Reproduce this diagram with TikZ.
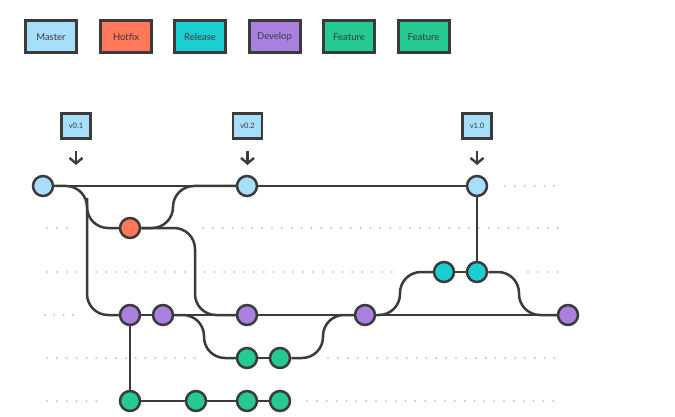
\documentclass[tikz,border=0pt]{standalone}
\usepackage{fontspec}
\setmainfont{Lato}
\usetikzlibrary{arrows.meta}
\definecolor{edge}{HTML}{3B3B3B}
\definecolor{lanegray}{HTML}{C8C8C8}
\definecolor{masterc}{HTML}{A6DEFB}
\definecolor{hotfixc}{HTML}{FF7859}
\definecolor{releasec}{HTML}{1BCED1}
\definecolor{developc}{HTML}{A97FE0}
\definecolor{featurec}{HTML}{24C994}

\begin{document}
\begin{tikzpicture}[x=1pt, y=-1pt,
  commit/.style={circle, draw=edge, line width=2.5pt, minimum size=20pt, inner sep=0pt},
  legend/.style={draw=edge, line width=3pt, minimum width=51pt, minimum height=32pt,
    inner sep=0pt, text=edge, font=\fontsize{9.5}{11}\selectfont},
  tag/.style={draw=edge, fill=masterc, line width=2.2pt, minimum width=29pt,
    minimum height=25pt, inner sep=0pt, text=edge, font=\fontsize{7.5}{9}\selectfont},
  branch/.style={draw=edge, line width=2.5pt, rounded corners=21pt},
  lane/.style={draw=lanegray, line width=2.3pt, line cap=round, dash pattern=on 0pt off 9.85pt},
  tagarrow/.style={draw=edge, line width=2.4pt, -{Straight Barb[length=5.5pt,width=13pt]},
    shorten <=11pt, shorten >=21pt}]
  \useasboundingbox (0,0) rectangle (675,417);
  % legend
  \node[legend, fill=masterc]  (lmaster)  at (51,37)    {Master};
  \node[legend, fill=hotfixc]  (lhotfix)  at (126,37)   {Hotfix};
  \node[legend, fill=releasec] (lrelease) at (200,37)   {Release};
  \node[legend, fill=developc] (ldevelop) at (274.5,37) {Develop};
  \node[legend, fill=featurec] (lfeatA)   at (349,37)   {Feature};
  \node[legend, fill=featurec] (lfeatB)   at (423.5,37) {Feature};
  % lanes
  \draw[lane] (505,186) -- (559,186);
  \draw[lane] (47,228) -- (68,228);
  \draw[lane] (203,228) -- (559,228);
  \draw[lane] (47,272) -- (398,272);
  \draw[lane] (528,272) -- (559,272);
  \draw[lane, dash pattern=on 0pt off 9.3pt] (45,315) -- (73,315);
  \draw[lane] (47,358) -- (201,358);
  \draw[lane] (328,358) -- (559,358);
  \draw[lane] (47,401) -- (106,401);
  \draw[lane] (307,401) -- (559,401);
  % commits
  \node[commit, fill=masterc]  (m1) at (43,186) {};
  \node[commit, fill=masterc]  (m2) at (247,186) {};
  \node[commit, fill=masterc]  (m3) at (477,186) {};
  \node[commit, fill=hotfixc]  (h1) at (130,228) {};
  \node[commit, fill=releasec] (r1) at (444,272) {};
  \node[commit, fill=releasec] (r2) at (477,272) {};
  \node[commit, fill=developc] (d1) at (130,315) {};
  \node[commit, fill=developc] (d2) at (163,315) {};
  \node[commit, fill=developc] (d3) at (247,315) {};
  \node[commit, fill=developc] (d4) at (365,315) {};
  \node[commit, fill=developc] (d5) at (568,315) {};
  \node[commit, fill=featurec] (fa1) at (247,358) {};
  \node[commit, fill=featurec] (fa2) at (280,358) {};
  \node[commit, fill=featurec] (fb1) at (130,401) {};
  \node[commit, fill=featurec] (fb2) at (196,401) {};
  \node[commit, fill=featurec] (fb3) at (247,401) {};
  \node[commit, fill=featurec] (fb4) at (280,401) {};
  % tags
  \node[tag] (t01) at (76,126)    {v0.1};
  \node[tag] (t02) at (247.5,126) {v0.2};
  \node[tag] (t10) at (477,126)   {v1.0};
  \draw[tagarrow] (t01) -- (t01 |- m1);
  \draw[tagarrow] (t02) -- (t02 |- m2);
  \draw[tagarrow] (t10) -- (t10 |- m3);
  % straight history
  \draw[branch] (m1) -- (m2) -- (m3);
  \draw[branch] (d1) -- (d2) -- (d3) -- (d4) -- (d5);
  \draw[branch] (r1) -- (r2);
  \draw[branch] (r2) -- (m3);
  \draw[branch] (fa1) -- (fa2);
  \draw[branch] (fb1) -- (fb2) -- (fb3) -- (fb4);
  \draw[branch] (d1) -- (fb1);
  % forks and merges
  \draw[branch] (m1) -| (87,315) -- (d1);
  \draw[branch] (87,198) |- (h1);
  \draw[branch] (h1) -| (173,186) -- (m2);
  \draw[branch] (h1) -| (195,315) -- (d3);
  \draw[branch] (d2) -| (204,358) -- (fa1);
  \draw[branch] (fa2) -| (323,315) -- (d4);
  \draw[branch] (d4) -| (400,272) -- (r1);
  \draw[branch] (r2) -| (519,315) -- (d5);
\end{tikzpicture}
\end{document}
